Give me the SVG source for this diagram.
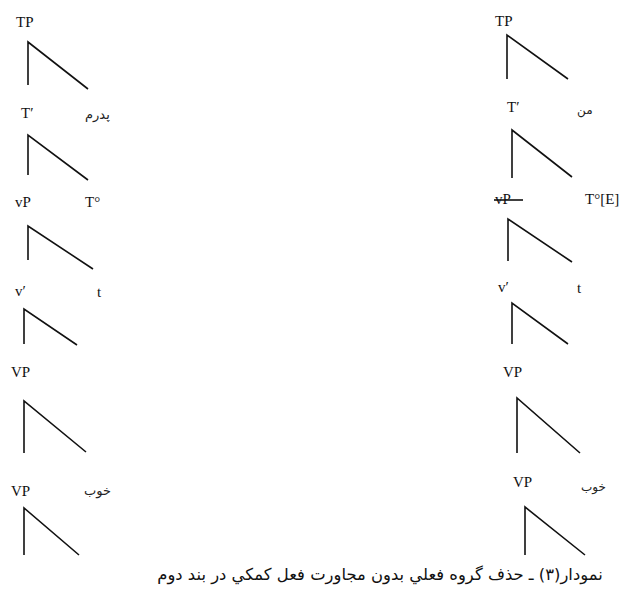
<svg xmlns="http://www.w3.org/2000/svg" width="627" height="591" viewBox="0 0 627 591">
<style>
.l{font-family:"Liberation Serif","Times New Roman",serif;font-size:15px;fill:#111}
.p{font-family:"DejaVu Sans","Noto Sans",sans-serif;font-size:13px;fill:#222}
.pr{font-family:"DejaVu Sans","Noto Sans",sans-serif;font-size:12px;fill:#222}
.cap{font-family:"DejaVu Sans","Noto Sans",sans-serif;font-size:16.4px;fill:#111}
.e{stroke:#111;stroke-width:1.6;fill:none}
</style>
<rect width="627" height="591" fill="#fff"/>
<g id="left-tree">
<g id="L-TP"><text class="l" x="16" y="27">TP</text></g>
<g id="L-Tbar"><text class="l" x="21" y="118">T′</text></g>
<g id="L-pedaram"><text class="p" x="85" y="119">پدرم</text></g>
<g id="L-vP"><text class="l" x="15" y="207">vP</text></g>
<g id="L-T0"><text class="l" x="85" y="207">T°</text></g>
<g id="L-vbar"><text class="l" x="15" y="296">v′</text></g>
<g id="L-t"><text class="l" x="97" y="297">t</text></g>
<g id="L-VP1"><text class="l" x="11" y="377">VP</text></g>
<g id="L-VP2"><text class="l" x="11" y="496">VP</text></g>
<g id="L-khub"><text class="p" x="84" y="495">خوب</text></g>
</g>
<g id="right-tree">
<g id="R-TP"><text class="l" x="495" y="26">TP</text></g>
<g id="R-Tbar"><text class="l" x="507" y="112">T′</text></g>
<g id="R-man"><text class="pr" x="577" y="114">من</text></g>
<g id="R-vP"><text class="l" x="495" y="204">vP</text><line class="e" x1="494" y1="200" x2="523" y2="200" stroke-width="1.2"/></g>
<g id="R-T0E"><text class="l" x="585" y="204">T°[E]</text></g>
<g id="R-vbar"><text class="l" x="498" y="292">v′</text></g>
<g id="R-t"><text class="l" x="577" y="293">t</text></g>
<g id="R-VP1"><text class="l" x="503" y="377">VP</text></g>
<g id="R-VP2"><text class="l" x="513" y="487">VP</text></g>
<g id="R-khub"><text class="pr" x="581" y="491">خوب</text></g>
</g>
<g id="connectors" class="e">
<polyline class="e" points="28,85 28,42 88,89"/>
<polyline class="e" points="28,175 28,135 88,180"/>
<polyline class="e" points="28,260 28,226 93,269"/>
<polyline class="e" points="24,344 24,309 77,345"/>
<polyline class="e" points="24,453 24,401 86,452"/>
<polyline class="e" points="24,555 24,508 79,555"/>
<polyline class="e" points="507,79 507,35 568,79"/>
<polyline class="e" points="512,178 512,130 572,177"/>
<polyline class="e" points="508,261 508,219 572,262"/>
<polyline class="e" points="512,344 512,303 568,344"/>
<polyline class="e" points="517,453 517,398 580,453"/>
<polyline class="e" points="525,555 525,507 585,555"/>
</g>
<g id="caption"><text class="cap" x="380" y="580" text-anchor="middle" direction="rtl">نمودار(۳) ـ حذف گروه فعلي بدون مجاورت فعل کمکي در بند دوم</text></g>
</svg>
